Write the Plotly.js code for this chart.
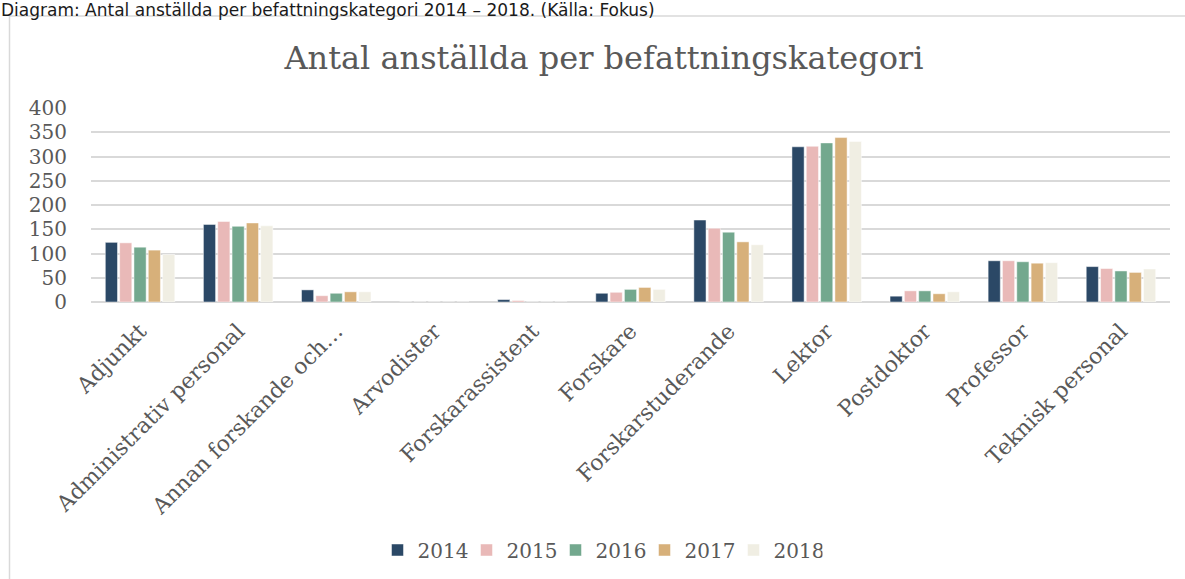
<!DOCTYPE html>
<html>
<head>
<meta charset="utf-8">
<script src="https://cdn.plot.ly/plotly-3.0.1.min.js"></script>
<style>html,body{margin:0;padding:0;background:#fff;}#chart{width:1185px;height:579px;}</style>
</head>
<body>
<div id="chart"></div>
<script>
const categories = ["Adjunkt", "Administrativ personal", "Annan forskande och…", "Arvodister", "Forskarassistent", "Forskare", "Forskarstuderande", "Lektor", "Postdoktor", "Professor", "Teknisk personal"];
const years = ["2014", "2015", "2016", "2017", "2018"];
const v2014 = [123, 160, 25, 0, 5, 18, 169, 320, 12, 85, 73];
const v2015 = [122, 166, 13, 0, 3, 20, 152, 321, 23, 85, 69];
const v2016 = [113, 156, 18, 0, 0, 26, 144, 328, 23, 83, 64];
const v2017 = [107, 163, 21, 0, 0, 30, 124, 339, 17, 80, 61];
const v2018 = [98, 157, 21, 0, 0, 26, 118, 331, 21, 81, 68];
const seriesValues = [v2014, v2015, v2016, v2017, v2018];
const colors = ["#2b4866", "#e9b9b8", "#73a88e", "#d7b07a", "#f0eee3"];
const yTicks = [0, 50, 100, 150, 200, 250, 300, 350, 400];

const textColor = "#595959";
const serif = "'DejaVu Serif', 'Liberation Serif', serif";

const traces = years.map((y, i) => ({
  type: "bar",
  name: y,
  x: categories,
  y: seriesValues[i],
  marker: {color: colors[i], line: {color: "rgba(255,255,255,0.6)", width: 0.8}},
  hoverinfo: "x+y+name"
}));

// pixel helpers for paper coords
const L = 91, R = 15, T = 108, B = 276, W = 1185, H = 579;
const pw = W - L - R, ph = H - T - B;
const px = p => (p - L) / pw;
const py = p => (H - B - p) / ph;

const layout = {
  width: W, height: H,
  margin: {l: L, r: R, t: T, b: B, pad: 0},
  paper_bgcolor: "#ffffff",
  plot_bgcolor: "#ffffff",
  barmode: "group",
  bargap: 0.27,
  bargroupgap: 0.15,
  showlegend: true,
  title: {
    text: "Antal anställda per befattningskategori",
    font: {family: serif, size: 32, color: textColor},
    xref: "paper", x: px(604), xanchor: "center",
    yref: "container", y: 1 - 58 / H, yanchor: "middle"
  },
  xaxis: {
    type: "category",
    tickangle: -45,
    tickfont: {family: serif, size: 22, color: textColor},
    showgrid: false,
    showline: false,
    zeroline: false,
    ticks: "",
    ticklabelstandoff: 11,
    automargin: false
  },
  yaxis: {
    range: [0, 400],
    tickvals: yTicks,
    ticktext: yTicks.map(String),
    tickfont: {family: serif, size: 20, color: textColor},
    showgrid: true,
    gridcolor: "#d9d9d9",
    gridwidth: 1.5,
    zeroline: true,
    zerolinecolor: "#d9d9d9",
    zerolinewidth: 1.5,
    showline: false,
    ticks: "",
    ticklabelstandoff: 23,
    automargin: false,
    fixedrange: true
  },
  legend: {
    orientation: "h",
    x: px(600), xanchor: "center",
    y: py(550), yanchor: "middle",
    font: {family: serif, size: 20, color: textColor},
    itemwidth: 30,
    entrywidth: 44,
    entrywidthmode: "pixels",
    traceorder: "normal",
    bgcolor: "rgba(0,0,0,0)"
  },
  shapes: [{
    type: "rect", xref: "paper", yref: "paper",
    x0: px(9.5), y0: py(15.5), x1: px(1200), y1: py(620),
    line: {color: "#d9d9d9", width: 1.5},
    fillcolor: "rgba(0,0,0,0)",
    layer: "below"
  }],
  annotations: [{
    text: "Diagram: Antal anställda per befattningskategori 2014 – 2018. (Källa: Fokus)",
    xref: "paper", yref: "paper",
    x: px(0), xanchor: "left",
    y: py(9), yanchor: "middle",
    borderpad: 0,
    showarrow: false,
    font: {family: "'DejaVu Sans', Verdana, sans-serif", size: 17, color: "#1a1a1a"}
  }]
};

Plotly.newPlot("chart", traces, layout, {displayModeBar: false, responsive: false});
</script>
</body>
</html>
